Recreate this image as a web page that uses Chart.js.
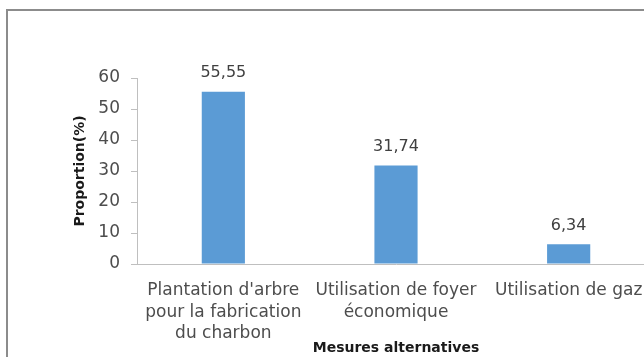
<!DOCTYPE html>
<html>
<head>
<meta charset="utf-8">
<script src="https://cdn.jsdelivr.net/npm/chart.js@4.4.1/dist/chart.umd.min.js"></script>
<style>
  html, body { margin: 0; padding: 0; background: #fff; overflow: hidden; width: 644px; height: 357px; }
  #frame { position: absolute; left: 6px; top: 9px; width: 700px; height: 400px; border: 2px solid #8c8c8c; }
  #wrap { position: absolute; left: 0; top: 0; width: 660px; height: 357px; }
</style>
</head>
<body>
<div id="frame"></div>
<div id="wrap"><canvas id="myChart" width="660" height="357"></canvas></div>
<script>
  // données
  const categories = [
    ["Plantation d'arbre", "pour la fabrication", "du charbon"],
    ["Utilisation de foyer", "économique"],
    ["Utilisation de gaz"],
  ];
  const proportions = [55.55, 31.74, 6.34];
  const yTicks = [0, 10, 20, 30, 40, 50, 60];

  const txt = "#4d4d4d";
  const font = "'DejaVu Sans', sans-serif";

  // étiquettes de valeur au-dessus des barres (virgule décimale)
  const valueLabels = {
    id: "valueLabels",
    afterDatasetsDraw(chart) {
      const ctx = chart.ctx;
      const meta = chart.getDatasetMeta(0);
      ctx.save();
      ctx.font = "16px " + font;
      ctx.fillStyle = "#404040";
      ctx.textAlign = "center";
      ctx.textBaseline = "middle";
      meta.data.forEach((bar, i) => {
        const v = proportions[i].toFixed(2).replace(".", ",");
        ctx.fillText(v, bar.x, bar.y - 19);
      });
      ctx.restore();
    },
  };

  var ctx = document.getElementById("myChart").getContext("2d");
  var myChart = new Chart(ctx, {
    type: "bar",
    data: {
      labels: categories,
      datasets: [
        {
          data: proportions,
          backgroundColor: "#5b9bd5",
          barPercentage: 0.5,
          categoryPercentage: 0.5,
        },
      ],
    },
    options: {
      responsive: false,
      animation: false,
      layout: { padding: { top: 78, right: 5, bottom: 0, left: 0 } },
      plugins: {
        legend: { display: false },
        tooltip: { enabled: false },
      },
      scales: {
        x: {
          grid: { display: false, drawTicks: false },
          border: { display: true, color: "#bfbfbf", width: 1 },
          ticks: {
            color: txt,
            font: { family: font, size: 17, lineHeight: 1.265 },
            padding: 16,
            maxRotation: 0,
            autoSkip: false,
          },
          title: {
            display: true,
            text: "Mesures alternatives",
            color: "#1a1a1a",
            font: { family: font, size: 14, weight: "bold" },
            padding: { top: 0, bottom: 0 },
          },
          afterFit(scale) { scale.height = 93; },
        },
        y: {
          min: 0,
          max: 60,
          afterBuildTicks(scale) { scale.ticks = yTicks.map((v) => ({ value: v })); },
          grid: { drawOnChartArea: false, drawTicks: true, tickLength: 6, color: "#bfbfbf" },
          border: { display: true, color: "#bfbfbf", width: 1 },
          ticks: {
            color: txt,
            font: { family: font, size: 17 },
            padding: 11,
          },
          title: {
            display: true,
            text: "Proportion(%)",
            color: "#1a1a1a",
            font: { family: font, size: 14, weight: "bold" },
            padding: { top: 72, bottom: 0 },
          },
          afterFit(scale) { scale.width = 137; },
        },
      },
    },
    plugins: [valueLabels],
  });
</script>
</body>
</html>
